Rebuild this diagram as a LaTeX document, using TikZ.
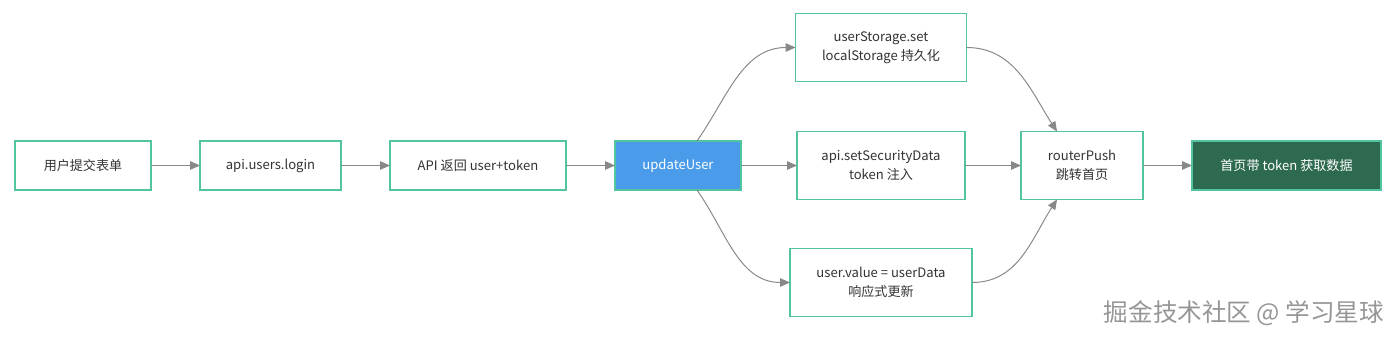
\documentclass[tikz,border=0pt]{standalone}
\usepackage{fontspec}
\setmainfont{Noto Sans CJK SC}
\usepackage{xcolor}
\usepackage{tikz}
\usetikzlibrary{arrows.meta, positioning}
\definecolor{flowteal}{RGB}{82,196,160}
\definecolor{flowtext}{RGB}{51,51,51}
\definecolor{updblue}{RGB}{74,155,234}
\definecolor{homegreen}{RGB}{45,106,79}
\definecolor{arrowgray}{RGB}{136,136,136}
\definecolor{markgray}{RGB}{150,150,150}
\tikzset{
  block/.style={rectangle, draw=flowteal, line width=0.8pt, fill=white,
    text=flowtext, align=center, minimum height=1.225cm, outer sep=0pt,
    font=\fontsize{9.3}{13.5}\selectfont},
  tallblock/.style={block, minimum height=1.7cm},
  updblock/.style={block, fill=updblue, text=white},
  homeblock/.style={block, fill=homegreen, text=white},
  arrow/.style={-{Stealth[length=7pt, width=6pt, inset=0pt]}, line width=0.7pt,
    color=arrowgray},
  watermark/.style={font=\fontsize{17.5}{19}\selectfont, text=markgray},
}

\begin{document}
\begin{tikzpicture}[node distance=1.225cm]

  \useasboundingbox (0,0) rectangle (35,8.525);

  %% ── main chain ──────────────────────────────────────────────
  \node[block, minimum width=3.4cm] (form) at (2.075,4.3875) {用户提交表单};
  \node[block, right=of form, minimum width=3.525cm] (login) {api.users.login};
  \node[block, right=of login, minimum width=4.4cm] (resp) {API 返回 user+token};
  \node[updblock, right=of resp, minimum width=3.15cm] (upd) {updateUser};

  %% ── three branches ──────────────────────────────────────────
  \node[tallblock, right=1.4cm of upd, minimum width=4.2cm] (secure)
    {api.setSecurityData\\token 注入};
  \node[tallblock, above=1.25cm of secure, minimum width=4.275cm] (store)
    {userStorage.set\\localStorage 持久化};
  \node[tallblock, below=1.225cm of secure, minimum width=4.55cm] (react)
    {user.value = userData\\响应式更新};

  %% ── routing ─────────────────────────────────────────────────
  \node[tallblock, right=1.4cm of secure, minimum width=3.05cm] (router)
    {routerPush\\跳转首页};
  \node[homeblock, right=of router, minimum width=4.725cm] (home)
    {首页带 token 获取数据};

  \draw[arrow] (form) -- (login);
  \draw[arrow] (login) -- (resp);
  \draw[arrow] (resp) -- (upd);
  \draw[arrow] (upd) -- (secure);
  \draw[arrow] (secure) -- (router);
  \draw[arrow] (router) -- (home);

  % curved branches
  \draw[arrow] ([xshift=0.475cm]upd.north) to[out=55, in=180] (store.west);
  \draw[arrow] ([xshift=0.475cm]upd.south) to[out=-55, in=180] (react.west);
  \draw[arrow] (store.east) to[out=0, in=123] ([xshift=-0.625cm]router.north);
  \draw[arrow] (react.east) to[out=0, in=-123] ([xshift=-0.625cm]router.south);

  \node[watermark] (mark) at (31.1,0.7) {掘金技术社区 @ 学习星球};

\end{tikzpicture}
\end{document}
